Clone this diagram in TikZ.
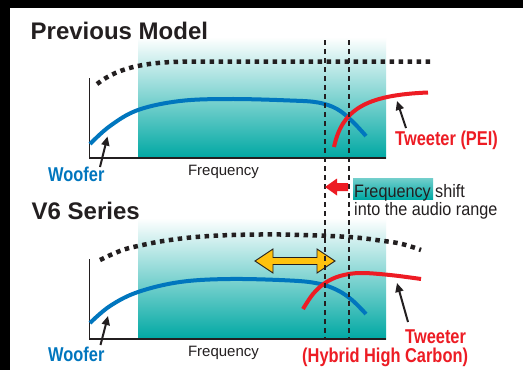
\documentclass[tikz,border=0pt]{standalone}
\usepackage{fontspec}
\setmainfont{Liberation Sans}
\newfontfamily\condfont[FakeStretch=0.82]{Liberation Sans}
\newfontfamily\notefont[FakeStretch=0.9]{Liberation Sans}
\usetikzlibrary{arrows.meta}
\definecolor{wblue}{RGB}{0,118,190}
\definecolor{tred}{RGB}{237,28,36}
\definecolor{tealc}{RGB}{0,168,163}
\definecolor{yel}{RGB}{255,194,14}
\definecolor{ink}{RGB}{35,31,32}
\tikzset{
  axisline/.style={line width=1.3pt, draw=ink},
  vdash/.style={line width=1.2pt, draw=ink, dash pattern=on 5pt off 4pt},
  dots/.style={line width=4.5pt, draw=ink, dash pattern=on 4.5pt off 4.5pt},
  wcurve/.style={line width=4pt, draw=wblue},
  tcurve/.style={line width=4pt, draw=tred},
  ptr/.style={line width=2pt, draw=ink, -{Triangle[length=9pt,width=8pt]}},
  bandfill/.style={top color=white, middle color=tealc!48!white, bottom color=tealc, draw=none},
  titletext/.style={font=\fontsize{24}{28}\selectfont\bfseries, text=ink, inner sep=0, anchor=base west},
  condtext/.style={font=\condfont\fontsize{20}{23}\selectfont\bfseries, inner sep=0, anchor=base west},
  freqtext/.style={font=\fontsize{15}{18}\selectfont, text=ink, inner sep=0, anchor=base},
  notetext/.style={font=\notefont\fontsize{18}{18}\selectfont, text=ink, inner sep=0, anchor=base west},
}
\begin{document}
\begin{tikzpicture}[x=1pt,y=-1pt]
\useasboundingbox (0,0) rectangle (523,370);
\fill[white] (0,0) rectangle (523,370);
\fill[black] (0,0) rectangle (523,8);
\fill[black] (0,0) rectangle (10,370);

% ---------- top chart ----------
\shade[bandfill] (138,37) rectangle (386,158);
\node[titletext] (t1) at (30.5,39) {Previous Model};

% ---------- bottom chart ----------
\shade[bandfill] (138,218) rectangle (386,339);
\node[titletext] (t2) at (31.5,219) {V6 Series};

% axes
\coordinate (a1top) at (89.5,78);
\coordinate (a1o) at (89.5,158);
\coordinate (a1r) at (386,158);
\draw[axisline] (a1top) -- (a1o) -- (a1r);
\coordinate (a2top) at (89.5,259);
\coordinate (a2o) at (89.5,339);
\coordinate (a2r) at (386,339);
\draw[axisline] (a2top) -- (a2o) -- (a2r);

% dotted curves
\draw[dots] (97,84) .. controls (120,66) and (150,61.5) .. (195,61.5) -- (430,61.5);
\draw[dots] plot[smooth, tension=0.7] coordinates {(100,260) (120,251) (138,246) (170,240) (210,236) (260,234.5) (300,235) (349,237) (380,240.5) (402,244) (421,250)};

% yellow double arrow
\fill[yel, draw=ink, line width=0.9pt, line join=miter]
  (255,261) -- (273,249) -- (273,257.5) -- (317,257.5) -- (317,249) -- (335,261)
  -- (317,273) -- (317,264.5) -- (273,264.5) -- (273,273) -- cycle;

% curves
\draw[wcurve] plot[smooth, tension=0.6] coordinates {(90,144) (110,126) (138,110) (180,101) (230,99) (290,100.5) (318,102.5) (337,109) (352,121) (366,136)};
\draw[tcurve] (334,147) .. controls (342,110) and (365,95) .. (428,92.5);
\draw[wcurve] plot[smooth, tension=0.6] coordinates {(90,323) (110,306) (138,292) (180,282) (230,279) (290,280.5) (318,283.5) (337,290) (352,300) (366,314)};
\draw[tcurve] plot[smooth, tension=0.6] coordinates {(303,309) (313,294) (325,283) (340,276) (360,273) (390,275) (421,279)};

% dashed verticals
\coordinate (d1a) at (325,40);
\coordinate (d1b) at (325,339);
\coordinate (d2a) at (349,40);
\coordinate (d2b) at (349,339);
\draw[vdash] (d1a) -- (d1b);
\draw[vdash] (d2a) -- (d2b);

% frequency axis labels
\node[freqtext] (f1) at (223.5,175) {Frequency};
\node[freqtext] (f2) at (223.5,356.5) {Frequency};

% labels
\node[condtext, text=wblue] (w1) at (48,181.5) {Woofer};
\node[condtext, text=wblue] (w2) at (48,361.5) {Woofer};
\node[condtext, text=tred] (tw1) at (395,145) {Tweeter (PEI)};
\node[condtext, text=tred] (tw2) at (405,343) {Tweeter};
\node[condtext, text=tred] (tw3) at (302,362.5) {(Hybrid High Carbon)};

% pointer arrows
\coordinate (p1s) at (100,167);
\coordinate (p1e) at (107.5,136.5);
\draw[ptr] (p1s) -- (p1e);
\coordinate (p2s) at (100.5,345);
\coordinate (p2e) at (108,316);
\draw[ptr] (p2s) -- (p2e);
\coordinate (p3s) at (406,128);
\coordinate (p3e) at (397,101);
\draw[ptr] (p3s) -- (p3e);
\coordinate (p4s) at (408,322);
\coordinate (p4e) at (397,283);
\draw[ptr] (p4s) -- (p4e);

% frequency shift note
\shade[top color=tealc!55!white, bottom color=tealc] (353,178) rectangle (433,199);
\fill[tred] (325,187) -- (337,178.5) -- (337,183) -- (348,183) -- (348,191) -- (337,191) -- (337,195.5) -- cycle;
\node[notetext] (n1) at (354,197) {Frequency shift};
\node[notetext] (n2) at (354,215) {into the audio range};
\end{tikzpicture}
\end{document}
